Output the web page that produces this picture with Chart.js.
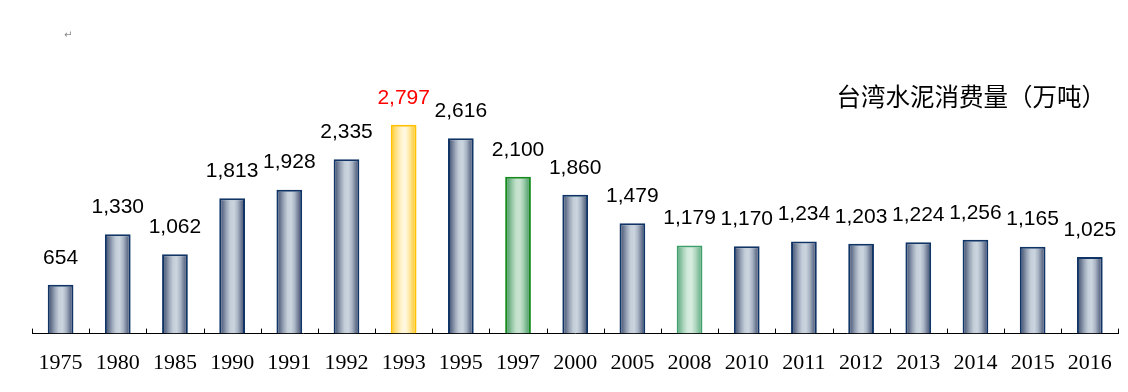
<!DOCTYPE html>
<html>
<head>
<meta charset="utf-8">
<script src="https://cdn.jsdelivr.net/npm/chart.js@4/dist/chart.umd.min.js"></script>
<style>
  html, body { margin: 0; padding: 0; background: #fff; }
  #wrap { position: relative; width: 1128px; height: 392px; }
  #mark { position: absolute; left: 64px; top: 29px; font: 10px "DejaVu Sans"; color: #888; }
</style>
</head>
<body>
<div id="wrap">
  <span id="mark">↵</span>
  <canvas id="cementChart" width="1128" height="392"></canvas>
</div>
<script>
const years = ['1975', '1980', '1985', '1990', '1991', '1992', '1993', '1995', '1997', '2000',
  '2005', '2008', '2010', '2011', '2012', '2013', '2014', '2015', '2016'];
const consumption = [654, 1330, 1062, 1813, 1928, 2335, 2797, 2616, 2100, 1860,
  1479, 1179, 1170, 1234, 1203, 1224, 1256, 1165, 1025];
const chartTitle = '台湾水泥消费量（万吨）';

// colour sets: border + horizontal gradient stops (edge -> centre -> edge)
const palettes = {
  navy: { border: '#0f3465', stops: ['#3b4a6c', '#68758f', '#9ca7b9', '#c4ced9', '#cbd5df', '#aab5c5', '#6f7b94', '#3a486a'] },
  gold: { border: '#ffc000', stops: ['#ffcc33', '#ffd966', '#ffe8a3', '#fff5d6', '#fff8e0', '#ffeaa8', '#ffd65c', '#ffc928'] },
  green: { border: '#138a1b', stops: ['#3f9458', '#6aae80', '#9ccbab', '#c3e1cc', '#c8e3d0', '#a3cfb1', '#6cb083', '#3e9256'] },
  lightGreen: { border: '#3d9f6a', stops: ['#55a77a', '#82bf9c', '#b2d8c2', '#d3ebdd', '#d6ecdf', '#b5d9c4', '#84c09e', '#56a87b'] }
};
const highlight = { '1993': 'gold', '1997': 'green', '2008': 'lightGreen' };

function paletteFor(i) {
  return palettes[highlight[years[i]] || 'navy'];
}

function barFill(ctx) {
  const chart = ctx.chart;
  const pal = paletteFor(ctx.dataIndex);
  const xs = chart.scales.x;
  if (!chart.chartArea || !xs) return pal.stops[3];
  const half = (xs.width / years.length) * 0.45 / 2;
  const cx = xs.getPixelForValue(ctx.dataIndex);
  const g = chart.ctx.createLinearGradient(cx - half, 0, cx + half, 0);
  pal.stops.forEach((c, k) => g.addColorStop(k / (pal.stops.length - 1), c));
  return g;
}

const valueLabels = {
  id: 'valueLabels',
  afterDatasetsDraw(chart) {
    const ctx = chart.ctx;
    const meta = chart.getDatasetMeta(0);
    ctx.save();
    ctx.font = '21px "Liberation Sans", Arial, sans-serif';
    ctx.textAlign = 'center';
    ctx.textBaseline = 'middle';
    meta.data.forEach((bar, i) => {
      ctx.fillStyle = years[i] === '1993' ? '#ff0000' : '#000';
      ctx.fillText(consumption[i].toLocaleString('en-US'), bar.x, bar.y - 27);
    });
    ctx.restore();
  }
};

// small tick marks pointing up from the axis, between categories
const innerTicks = {
  id: 'innerTicks',
  afterDraw(chart) {
    const xs = chart.scales.x;
    const ctx = chart.ctx;
    const step = xs.width / years.length;
    ctx.save();
    ctx.strokeStyle = '#000';
    ctx.lineWidth = 1;
    ctx.beginPath();
    for (let i = 0; i <= years.length; i++) {
      const x = Math.round(xs.left + i * step) + 0.5;
      ctx.moveTo(x, xs.top - 5);
      ctx.lineTo(x, xs.top);
    }
    ctx.stroke();
    ctx.restore();
  }
};

const titleText = {
  id: 'titleText',
  afterDraw(chart) {
    const ctx = chart.ctx;
    ctx.save();
    ctx.font = '24.5px "Noto Sans CJK SC", sans-serif';
    ctx.fillStyle = '#000';
    ctx.textAlign = 'right';
    ctx.textBaseline = 'middle';
    ctx.fillText(chartTitle, 1106, 97);
    ctx.restore();
  }
};

new Chart(document.getElementById('cementChart'), {
  type: 'bar',
  data: {
    labels: years,
    datasets: [{
      data: consumption,
      backgroundColor: barFill,
      borderColor: (ctx) => paletteFor(ctx.dataIndex).border,
      borderWidth: 2,
      borderSkipped: 'bottom',
      barPercentage: 0.45,
      categoryPercentage: 1
    }]
  },
  options: {
    responsive: false,
    animation: false,
    layout: { padding: { left: 32, right: 7, top: 35, bottom: 0 } },
    plugins: { legend: { display: false }, tooltip: { enabled: false } },
    scales: {
      x: {
        grid: { display: false, drawTicks: false },
        border: { display: true, color: '#000', width: 1 },
        ticks: {
          color: '#000',
          padding: 16,
          maxRotation: 0,
          autoSkip: false,
          font: { family: '"Liberation Serif", "Times New Roman", serif', size: 22 }
        }
      },
      y: { display: false, min: 0, max: 4000 }
    }
  },
  plugins: [valueLabels, innerTicks, titleText]
});
</script>
</body>
</html>
